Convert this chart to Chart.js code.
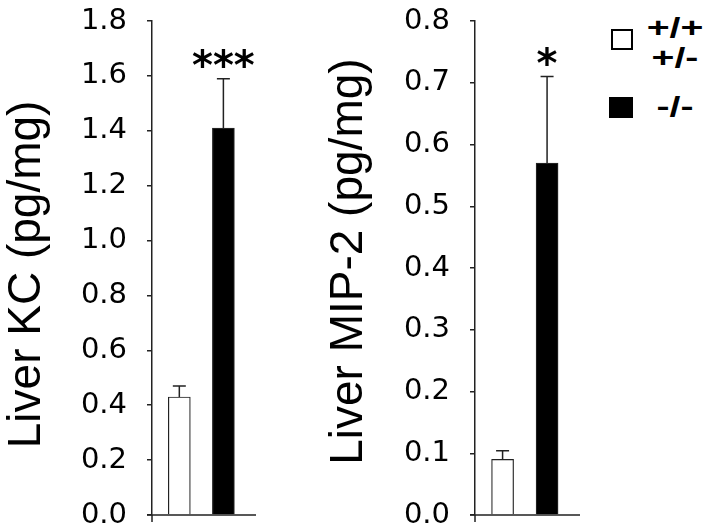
<!DOCTYPE html>
<html>
<head>
<meta charset="utf-8">
<script src="https://cdn.jsdelivr.net/npm/chart.js@4"></script>
<style>
  html, body { margin: 0; padding: 0; background: #fff; }
  body { width: 712px; height: 527px; position: relative; overflow: hidden; }
  .panel { position: absolute; top: 0; }
  #kcChart { left: 0; }
  #mipChart { left: 322px; }
  .swatch { position: absolute; box-sizing: border-box; border: 2.5px solid #000; background: #fff; }
  .swatch.filled { background: #000; }
  .legend-text {
    position: absolute; width: 60px; text-align: center; white-space: pre-line;
    font: bold 28px "Liberation Sans", Arial, sans-serif; line-height: 30px; color: #000;
    transform: scaleX(1.4); transform-origin: center;
  }
</style>
</head>
<body>
<canvas id="kcChart" class="panel" width="270" height="527"></canvas>
<canvas id="mipChart" class="panel" width="270" height="527"></canvas>
<div class="swatch" style="left:611px; top:29px; width:22px; height:21px;"></div>
<div class="legend-text" id="leg0" style="left:645px; top:13px;"></div>
<div class="swatch filled" style="left:609px; top:97px; width:24px; height:21px;"></div>
<div class="legend-text" id="leg1" style="left:645px; top:92px;"></div>
<script>
// groups (legend labels)
const genotypes = ['+/+\n+/-', '-/-'];
const barColors = ['#ffffff', '#000000'];

// Liver KC (pg/mg)
const kcMeans = [0.43, 1.41];
const kcErrors = [0.04, 0.18];
const kcStars = ['', '***'];

// Liver MIP-2 (pg/mg)
const mipMeans = [0.09, 0.57];
const mipErrors = [0.014, 0.14];
const mipStars = ['', '*'];

const axisColor = '#222';

document.getElementById('leg0').textContent = genotypes[0];
document.getElementById('leg1').textContent = genotypes[1];

// error bars, significance stars and the baseline
const extras = {
    id: 'extras',
    afterDatasetsDraw(chart, args, opts) {
        const ctx = chart.ctx;
        const y = chart.scales.y;
        const area = chart.chartArea;
        const meta = chart.getDatasetMeta(0);
        ctx.save();
        ctx.strokeStyle = axisColor;
        ctx.lineWidth = 1.5;
        meta.data.forEach((bar, i) => {
            const top = y.getPixelForValue(opts.means[i] + opts.errors[i]);
            ctx.beginPath();
            ctx.moveTo(bar.x, bar.y);
            ctx.lineTo(bar.x, top);
            ctx.moveTo(bar.x - 6.5, top);
            ctx.lineTo(bar.x + 6.5, top);
            ctx.stroke();
            if (opts.stars[i]) {
                ctx.fillStyle = '#000';
                ctx.font = 'bold 40px "DejaVu Sans"';
                ctx.textAlign = 'center';
                ctx.textBaseline = 'alphabetic';
                ctx.fillText(opts.stars[i], bar.x, top);
            }
        });
        // baseline and small tick below the y axis
        const base = y.getPixelForValue(0);
        ctx.beginPath();
        ctx.moveTo(area.left - 5, base);
        ctx.lineTo(area.right, base);
        ctx.moveTo(area.left, base);
        ctx.lineTo(area.left, base + 7);
        ctx.stroke();
        ctx.restore();
    }
};

function makeChart(id, means, errors, stars, yMax, step, title, axisWidth, padRight) {
    return new Chart(document.getElementById(id), {
        type: 'bar',
        data: {
            datasets: [{
                data: means.map((m, i) => ({ x: i, y: m })),
                backgroundColor: barColors,
                borderColor: axisColor,
                borderWidth: 1.2,
                barThickness: 22
            }]
        },
        options: {
            responsive: false,
            animation: false,
            layout: { padding: { top: 21, bottom: 12, left: 0, right: padRight } },
            plugins: {
                legend: { display: false },
                tooltip: { enabled: false },
                extras: { means: means, errors: errors, stars: stars }
            },
            scales: {
                x: { type: 'linear', display: false, offset: false, min: -0.62, max: 1.74 },
                y: {
                    min: 0,
                    max: yMax,
                    afterFit: (scale) => {
                        scale.width = axisWidth;
                        scale.paddingTop = 0;
                        scale.paddingBottom = 0;
                    },
                    border: { display: true, color: axisColor, width: 1.5 },
                    grid: { drawOnChartArea: false, drawTicks: true, tickLength: 5, color: axisColor, lineWidth: 1.5 },
                    ticks: {
                        stepSize: step,
                        padding: 20,
                        color: '#000',
                        font: { family: '"DejaVu Sans"', size: 29 },
                        callback: (v) => v.toFixed(1)
                    },
                    title: {
                        display: true,
                        text: title,
                        color: '#000',
                        padding: 0,
                        font: { family: '"Liberation Sans", Arial', size: 46 }
                    }
                }
            }
        },
        plugins: [extras]
    });
}

makeChart('kcChart', kcMeans, kcErrors, kcStars, 1.8, 0.2, 'Liver KC (pg/mg) ', 152, 14);
makeChart('mipChart', mipMeans, mipErrors, mipStars, 0.8, 0.1, ' Liver MIP-2 (pg/mg)', 153, 12);
</script>
</body>
</html>
